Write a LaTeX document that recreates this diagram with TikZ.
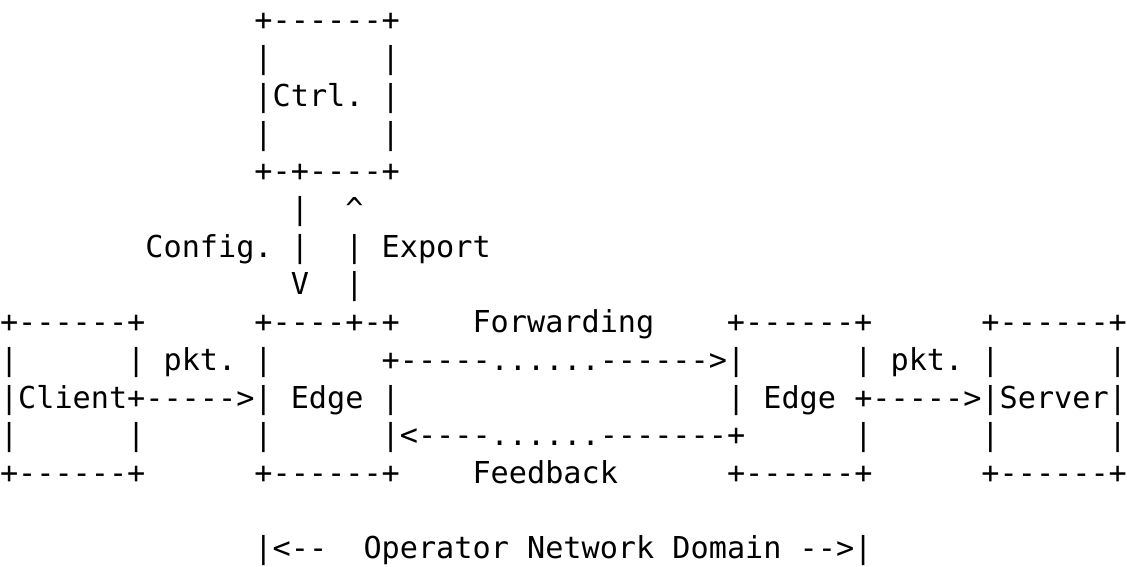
\documentclass[tikz,border=0pt]{standalone}
\usepackage{fontspec}
\setmonofont{DejaVu Sans Mono}
\frenchspacing
\tikzset{
  asc/.style={anchor=base west, inner sep=0pt, outer sep=0pt, text=black,
    font=\ttfamily\fontsize{30.19pt}{37.7pt}\selectfont}
}
\begin{document}
\begin{tikzpicture}[x=1pt,y=1pt]
\fill[white] (0,0) rectangle (1127,-567);
\useasboundingbox (0,0) rectangle (1127,-567);
% column width 18.177pt, baselines 31 + 37.7*row
\node[asc] (ctrlTop) at (254.48,-31.0)  {+------+};
\node[asc] (ctrlA)   at (254.48,-68.7)  {|~~~~~~|};
\node[asc] (ctrl)    at (254.48,-106.4) {|Ctrl.~|};
\node[asc] (ctrlB)   at (254.48,-144.1) {|~~~~~~|};
\node[asc] (ctrlBot) at (254.48,-181.8) {+-+----+};
\node[asc] (vA)      at (290.83,-219.5) {|~~\textasciicircum};
\node[asc] (cfg)     at (145.42,-257.2) {Config.~|~~|~Export};
\node[asc] (vB)      at (290.83,-294.9) {V~~|};
\node[asc] (r8)  at (0,-332.6) {+------+~~~~~~+----+-+~~~~Forwarding~~~~+------+~~~~~~+------+};
\node[asc] (r9)  at (0,-370.3) {|~~~~~~|~pkt.~|~~~~~~+-----......------>|~~~~~~|~pkt.~|~~~~~~|};
\node[asc] (r10) at (0,-408.0) {|Client+----->|~Edge~|~~~~~~~~~~~~~~~~~~|~Edge~+----->|Server|};
\node[asc] (r11) at (0,-445.7) {|~~~~~~|~~~~~~|~~~~~~|<----......-------+~~~~~~|~~~~~~|~~~~~~|};
\node[asc] (r12) at (0,-483.4) {+------+~~~~~~+------+~~~~Feedback~~~~~~+------+~~~~~~+------+};
\node[asc] (dom) at (254.48,-558.8) {|<--~~Operator~Network~Domain~-->|};
\end{tikzpicture}
\end{document}
